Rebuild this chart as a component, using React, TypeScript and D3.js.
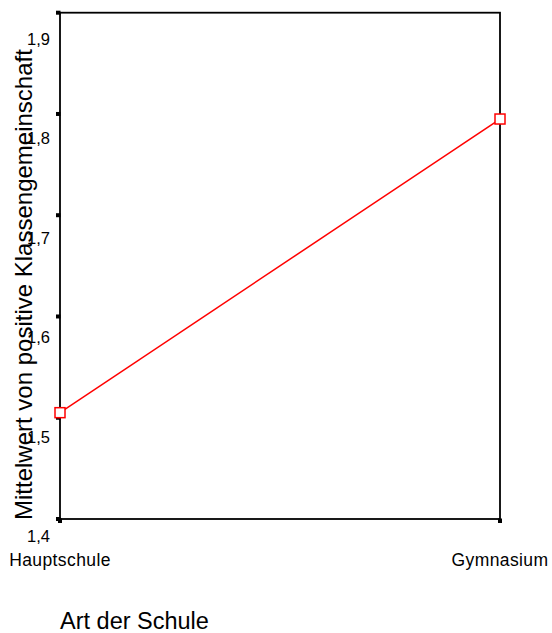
import { useRef, useEffect } from 'react';
import * as d3 from 'd3';

// Data
const categories = ['Hauptschule', 'Gymnasium'];
const means = [1.505, 1.795];
const yTicks = [1.4, 1.5, 1.6, 1.7, 1.8, 1.9];

const WIDTH = 552;
const HEIGHT = 633;
const PLOT = { left: 60, right: 500, top: 12.7, bottom: 519 };
const FONT = '"Liberation Sans", Arial, sans-serif';

export default function App() {
  const svgRef = useRef<SVGSVGElement>(null);

  useEffect(() => {
    if (!svgRef.current) return;
    const svg = d3.select(svgRef.current);
    svg.selectAll('*').remove();

    const x = d3.scalePoint<string>()
      .domain(categories)
      .range([PLOT.left, PLOT.right])
      .padding(0);

    const y = d3.scaleLinear()
      .domain([1.4, 1.9])
      .range([PLOT.bottom, PLOT.top]);

    // SPSS places the tick labels slightly off the tick marks
    const yLabel = d3.scaleLinear()
      .domain([1.4, 1.9])
      .range([542, 45]);

    // Frame
    svg.append('rect')
      .attr('x', PLOT.left)
      .attr('y', PLOT.top)
      .attr('width', PLOT.right - PLOT.left)
      .attr('height', PLOT.bottom - PLOT.top)
      .attr('fill', 'none')
      .attr('stroke', '#000')
      .attr('stroke-width', 1.8);

    // Y tick marks
    svg.selectAll('.ytick')
      .data(yTicks)
      .enter()
      .append('rect')
      .attr('class', 'ytick')
      .attr('x', PLOT.left - 4)
      .attr('y', (d) => y(d) - 2)
      .attr('width', 4.5)
      .attr('height', 4)
      .attr('fill', '#000');

    // Y tick labels
    svg.selectAll('.ylabel')
      .data(yTicks)
      .enter()
      .append('text')
      .attr('class', 'ylabel')
      .attr('x', 50)
      .attr('y', (d) => yLabel(d))
      .attr('text-anchor', 'end')
      .style('font-family', FONT)
      .style('font-size', '16.5px')
      .style('fill', '#000')
      .text((d) => d3.format('.1f')(d).replace('.', ','));

    // X tick marks
    svg.selectAll('.xtick')
      .data(categories)
      .enter()
      .append('rect')
      .attr('class', 'xtick')
      .attr('x', (d) => (x(d) ?? 0) - 2)
      .attr('y', PLOT.bottom - 0.5)
      .attr('width', 4)
      .attr('height', 4.5)
      .attr('fill', '#000');

    // X tick labels
    svg.selectAll('.xlabel')
      .data(categories)
      .enter()
      .append('text')
      .attr('class', 'xlabel')
      .attr('x', (d) => x(d) ?? 0)
      .attr('y', 566)
      .attr('text-anchor', 'middle')
      .style('font-family', FONT)
      .style('font-size', '17.5px')
      .style('letter-spacing', '0.4px')
      .style('fill', '#000')
      .text((d) => d);

    // Mean line
    const line = d3.line<number>()
      .x((_, i) => x(categories[i]) ?? 0)
      .y((d) => y(d));

    svg.append('path')
      .datum(means)
      .attr('fill', 'none')
      .attr('stroke', '#ff0000')
      .attr('stroke-width', 1.5)
      .attr('d', line);

    // Square markers
    svg.selectAll('.marker')
      .data(means)
      .enter()
      .append('rect')
      .attr('class', 'marker')
      .attr('x', (_, i) => (x(categories[i]) ?? 0) - 5)
      .attr('y', (d) => y(d) - 5)
      .attr('width', 10)
      .attr('height', 10)
      .attr('fill', '#fff')
      .attr('stroke', '#ff0000')
      .attr('stroke-width', 1.5);

    // Axis titles
    svg.append('text')
      .attr('transform', `translate(32,${PLOT.bottom + 1}) rotate(-90)`)
      .attr('text-anchor', 'start')
      .style('font-family', FONT)
      .style('font-size', '24px')
      .style('fill', '#000')
      .text('Mittelwert von positive Klassengemeinschaft');

    svg.append('text')
      .attr('x', PLOT.left)
      .attr('y', 629)
      .attr('text-anchor', 'start')
      .style('font-family', FONT)
      .style('font-size', '23.5px')
      .style('fill', '#000')
      .text('Art der Schule');
  }, []);

  return (
    <div style={{ position: 'absolute', left: 0, top: 0 }}>
      <style>{'body { margin: 0; }'}</style>
      <svg ref={svgRef} width={WIDTH} height={HEIGHT} style={{ background: '#fff', display: 'block' }} />
    </div>
  );
}
